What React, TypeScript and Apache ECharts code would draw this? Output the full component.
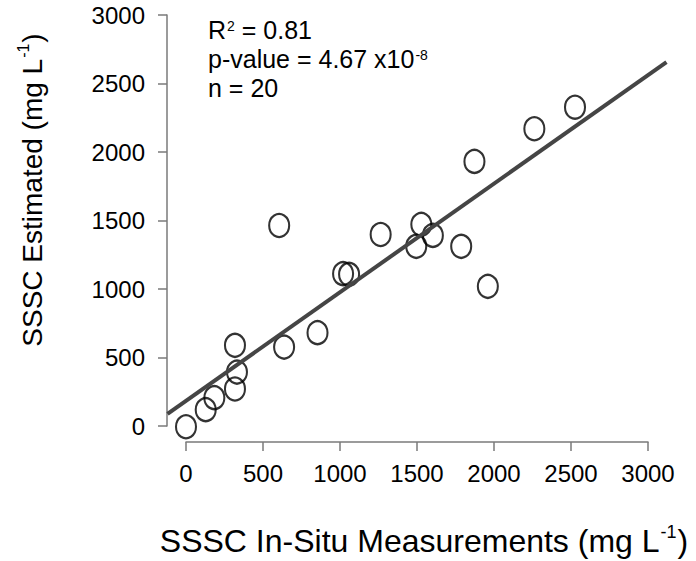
import React, { useEffect, useRef } from "react";
import * as echarts from "echarts";

// Data
const inSitu = [0, 128, 184, 318, 331, 318, 637, 854, 605, 1020, 1059, 1264, 1528, 1603, 1495, 1787, 1960, 1873, 2262, 2526];
const estimated = [-5, 120, 208, 271, 395, 591, 578, 684, 1469, 1116, 1111, 1403, 1477, 1396, 1316, 1316, 1023, 1938, 2177, 2335];
const axisTicks = [0, 500, 1000, 1500, 2000, 2500, 3000];
const fitIntercept = 185;
const fitSlope = 0.795;
const plotRange = [-120, 3120];
const statLines = ["R", "2", " = 0.81", "p-value = 4.67 x10", "-8", "n = 20"];

const FONT = "'Liberation Sans', Arial, Helvetica, sans-serif";

export default function App() {
  const ref = useRef<HTMLDivElement>(null);
  useEffect(() => {
    if (!ref.current) return;
    const chart = echarts.init(ref.current, undefined, { renderer: "svg" });
    const points = inSitu.map((x, i) => [x, estimated[i]]);
    const fitLine = plotRange.map((x) => [x, fitIntercept + fitSlope * x]);
    const axisColor = "#7a7a7a";
    const tickAxis = (offset: number, margin: number) => ({
      type: "value",
      gridIndex: 0,
      min: axisTicks[0],
      max: axisTicks[axisTicks.length - 1],
      interval: 500,
      offset,
      axisLine: { show: true, onZero: false, lineStyle: { color: axisColor, width: 1.5 } },
      axisTick: { show: true, length: 9, lineStyle: { color: axisColor, width: 1.5 } },
      axisLabel: { color: "#000", fontSize: 24, fontFamily: FONT, margin, formatter: (v: number) => String(v) },
      splitLine: { show: false },
    });
    const dataAxis = () => ({
      type: "value",
      gridIndex: 1,
      min: plotRange[0],
      max: plotRange[1],
      show: false,
      splitLine: { show: false },
    });
    chart.setOption({
      animation: false,
      backgroundColor: "#ffffff",
      grid: [
        { left: 186, right: 48, top: 15, bottom: 135, containLabel: false },
        { left: 167.52, right: 29.52, top: -1.44, bottom: 118.56, containLabel: false },
      ],
      xAxis: [tickAxis(16, 19), dataAxis()],
      yAxis: [tickAxis(19, 22), dataAxis()],
      series: [
        {
          type: "scatter",
          xAxisIndex: 1,
          yAxisIndex: 1,
          data: points,
          clip: false,
          symbol: "circle",
          symbolSize: [20, 23],
          itemStyle: { color: "rgba(255,255,255,0)", borderColor: "#000", borderWidth: 2.2 },
          z: 2,
        },
        {
          type: "line",
          xAxisIndex: 1,
          yAxisIndex: 1,
          data: fitLine,
          showSymbol: false,
          symbol: "none",
          lineStyle: { color: "#454545", width: 4 },
          z: 3,
        },
      ],
      graphic: [
        {
          type: "text",
          left: 208,
          top: 16,
          style: {
            text:
              "{a|" + statLines[0] + "}{s|" + statLines[1] + "}{a|" + statLines[2] + "}\n" +
              "{a|" + statLines[3] + "}{s|" + statLines[4] + "}\n" +
              "{a|" + statLines[5] + "}",
            rich: {
              a: { fontSize: 25, fontFamily: FONT, fill: "#000", lineHeight: 28.7 },
              s: { fontSize: 14, fontFamily: FONT, fill: "#000", lineHeight: 14, verticalAlign: "top", padding: [3, 0, 0, 1] },
            },
          },
        },
        {
          type: "text",
          x: 424,
          y: 541,
          style: {
            text: "{a|SSSC In-Situ Measurements (mg L}{s|-1}{a|)}",
            align: "center",
            verticalAlign: "middle",
            rich: {
              a: { fontSize: 32, fontFamily: FONT, fill: "#000", lineHeight: 36 },
              s: { fontSize: 18, fontFamily: FONT, fill: "#000", lineHeight: 18, verticalAlign: "top", padding: [0, 1, 0, 1] },
            },
          },
        },
        {
          type: "text",
          x: 32,
          y: 190,
          rotation: Math.PI / 2,
          style: {
            text: "{a|SSSC Estimated (mg L}{s|-1}{a|)}",
            align: "center",
            verticalAlign: "middle",
            rich: {
              a: { fontSize: 28, fontFamily: FONT, fill: "#000", lineHeight: 33 },
              s: { fontSize: 16, fontFamily: FONT, fill: "#000", lineHeight: 16, verticalAlign: "top", padding: [0, 1, 0, 1] },
            },
          },
        },
      ],
    });
    return () => chart.dispose();
  }, []);
  return <div ref={ref} style={{ width: 696, height: 561, position: "absolute", left: 0, top: 0 }} />;
}
